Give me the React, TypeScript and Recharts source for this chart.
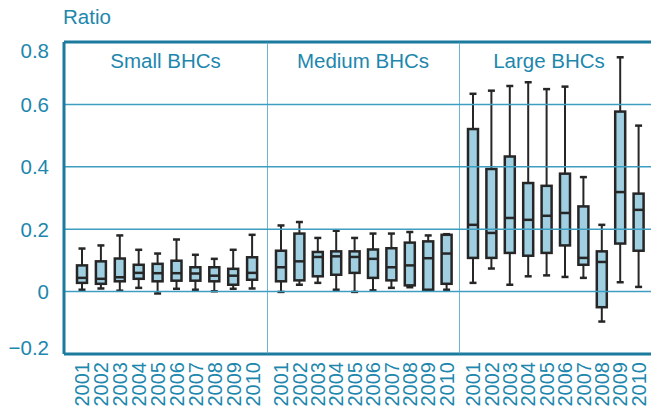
import React from 'react';
import { ComposedChart, Bar, XAxis, YAxis, ReferenceLine } from 'recharts';

const YEARS = ['2001', '2002', '2003', '2004', '2005', '2006', '2007', '2008', '2009', '2010'];
const Y_TICKS = [-0.2, 0, 0.2, 0.4, 0.6, 0.8];
const GRID_VALUES = [0, 0.2, 0.4, 0.6];

// box plot stats per year: whisker low, first quartile, median, third quartile, whisker high
const smallLow = [0.006, 0.01, 0.003, 0.012, -0.006, 0.009, 0.006, 0.001, 0.009, 0.01];
const smallQ1 = [0.028, 0.025, 0.033, 0.041, 0.033, 0.035, 0.035, 0.033, 0.022, 0.038];
const smallMed = [0.044, 0.041, 0.046, 0.06, 0.059, 0.059, 0.058, 0.051, 0.051, 0.06];
const smallQ3 = [0.084, 0.097, 0.106, 0.086, 0.089, 0.099, 0.078, 0.078, 0.073, 0.11];
const smallHigh = [0.138, 0.148, 0.18, 0.134, 0.122, 0.167, 0.118, 0.105, 0.134, 0.182];

const mediumLow = [-0.001, 0.022, 0.028, 0.006, -0.001, 0.004, 0.012, 0.014, 0.003, 0.006];
const mediumQ1 = [0.033, 0.036, 0.049, 0.054, 0.06, 0.044, 0.036, 0.02, 0.006, 0.025];
const mediumMed = [0.078, 0.097, 0.111, 0.113, 0.111, 0.105, 0.078, 0.084, 0.107, 0.122];
const mediumQ3 = [0.131, 0.186, 0.127, 0.129, 0.129, 0.135, 0.139, 0.157, 0.161, 0.182];
const mediumHigh = [0.212, 0.223, 0.172, 0.195, 0.172, 0.186, 0.186, 0.191, 0.18, 0.184];

const largeLow = [0.028, 0.074, 0.022, 0.049, 0.052, 0.047, 0.044, -0.096, 0.03, 0.015];
const largeQ1 = [0.108, 0.108, 0.124, 0.115, 0.124, 0.148, 0.086, -0.05, 0.154, 0.131];
const largeMed = [0.214, 0.188, 0.236, 0.23, 0.243, 0.252, 0.108, 0.095, 0.319, 0.262];
const largeQ3 = [0.521, 0.393, 0.433, 0.348, 0.339, 0.378, 0.273, 0.129, 0.577, 0.314];
const largeHigh = [0.634, 0.644, 0.659, 0.671, 0.649, 0.657, 0.367, 0.214, 0.751, 0.532];

const TEXT = '#1d87ad';
const AXIS = '#1a7b9e';
const GRID = '#3d9ec2';
const BOX_FILL = '#9fcfe0';
const BOX_LINE = '#262626';
const FONT = '"Liberation Sans", Arial, sans-serif';

const fmt = (v: number) => (v < 0 ? '\u2212' + Math.abs(v) : String(v));

const BoxShape = (props: any) => {
  const { x, y, width, height, payload } = props;
  const top = Math.min(y, y + height);
  const bot = Math.max(y, y + height);
  const { low, q1, med, q3, high } = payload;
  const py = (v: number) => (high === low ? top : top + ((bot - top) * (high - v)) / (high - low));
  const cx = x + width / 2;
  return (
    <g>
      <line x1={cx} x2={cx} y1={py(high)} y2={py(q3)} stroke={BOX_LINE} strokeWidth={2} />
      <line x1={cx} x2={cx} y1={py(q1)} y2={py(low)} stroke={BOX_LINE} strokeWidth={2} />
      <line x1={cx - 3.5} x2={cx + 3.5} y1={py(high)} y2={py(high)} stroke={BOX_LINE} strokeWidth={2.5} />
      <line x1={cx - 3.5} x2={cx + 3.5} y1={py(low)} y2={py(low)} stroke={BOX_LINE} strokeWidth={2.5} />
      <rect x={x} y={py(q3)} width={width} height={py(q1) - py(q3)} fill={BOX_FILL} stroke={BOX_LINE} strokeWidth={2.5} />
      <line x1={x} x2={x + width} y1={py(med)} y2={py(med)} stroke={BOX_LINE} strokeWidth={2.5} />
    </g>
  );
};

const YTick = (props: any) => {
  const { x, y, payload } = props;
  let dy = 0;
  if (payload.value === 0.8) dy = 8;
  if (payload.value === -0.2) dy = -7;
  return (
    <text x={x} y={y + dy} textAnchor="end" dominantBaseline="central" fill={TEXT} fontSize={20.5} fontFamily={FONT}>
      {fmt(payload.value)}
    </text>
  );
};

const EmptyTick = () => <g />;

const YearTick = (props: any) => {
  const { x, y, payload } = props;
  return (
    <text
      transform={`translate(${x},${y}) rotate(-90)`}
      textAnchor="end"
      dominantBaseline="central"
      fill={TEXT}
      fontSize={20}
      fontFamily={FONT}
    >
      {payload.value}
    </text>
  );
};

interface PanelProps {
  title: string;
  low: number[];
  q1: number[];
  med: number[];
  q3: number[];
  high: number[];
  width: number;
  first?: boolean;
  padLeft: number;
  padRight: number;
  titleDx?: number;
}

const Panel: React.FC<PanelProps> = ({ title, low, q1, med, q3, high, width, first, padLeft, padRight, titleDx = 0 }) => {
  const data = YEARS.map((year, i) => ({
    year,
    range: [low[i], high[i]],
    low: low[i],
    q1: q1[i],
    med: med[i],
    q3: q3[i],
    high: high[i],
  }));

  return (
    <ComposedChart
      width={width}
      height={406}
      data={data}
      margin={{ top: 34, right: 0, bottom: 0, left: first ? 0 : -1 }}
    >
      <XAxis
        dataKey="year"
        interval={0}
        height={60}
        tickLine={false}
        axisLine={false}
        padding={{ left: padLeft, right: padRight }}
        tick={<YearTick />}
      />
      <YAxis
        domain={[-0.2, 0.8]}
        ticks={Y_TICKS}
        width={first ? 56 : 1}
        tickLine={false}
        tickSize={0}
        tickMargin={15}
        tick={first ? <YTick /> : <EmptyTick />}
        axisLine={{ stroke: first ? AXIS : GRID, strokeWidth: first ? 3 : 1.5 }}
      />
      {GRID_VALUES.map((v) => (
        <ReferenceLine key={v} y={v} stroke={GRID} strokeWidth={1.5} />
      ))}
      <ReferenceLine
        y={0.8}
        stroke={AXIS}
        strokeWidth={3}
        label={{ value: title, position: 'insideTop', offset: 11, dx: titleDx, fill: TEXT, fontSize: 20.5, fontFamily: FONT }}
      />
      <ReferenceLine y={-0.2} stroke={AXIS} strokeWidth={3} />
      <Bar dataKey="range" barSize={10} shape={BoxShape} isAnimationActive={false} />
    </ComposedChart>
  );
};

export default function App() {
  return (
    <div style={{ position: 'relative', display: 'flex', width: 651, height: 406, fontFamily: FONT }}>
      <div style={{ position: 'absolute', left: 55, top: -1, fontSize: 20.5, lineHeight: 1, color: TEXT }}>Ratio</div>
      <Panel
        title="Small BHCs"
        low={smallLow}
        q1={smallQ1}
        med={smallMed}
        q3={smallQ3}
        high={smallHigh}
        width={259}
        first
        padLeft={9}
        padRight={5}
      />
      <Panel
        title="Medium BHCs"
        low={mediumLow}
        q1={mediumQ1}
        med={mediumMed}
        q3={mediumQ3}
        high={mediumHigh}
        width={192}
        padLeft={5}
        padRight={3}
      />
      <Panel
        title="Large BHCs"
        low={largeLow}
        q1={largeQ1}
        med={largeMed}
        q3={largeQ3}
        high={largeHigh}
        width={200}
        padLeft={5}
        padRight={11}
        titleDx={-10}
      />
    </div>
  );
}
